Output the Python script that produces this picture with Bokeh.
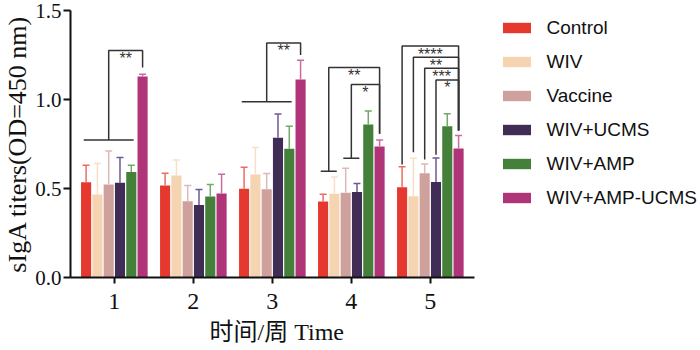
import numpy as np
from bokeh.plotting import figure
from bokeh.models import ColumnDataSource, Legend, LegendItem, FixedTicker, Title
from bokeh.core.properties import value
from bokeh.embed import file_html
from bokeh.resources import INLINE

weeks = [1, 2, 3, 4, 5]
week_labels = ["1", "2", "3", "4", "5"]
groups = ["Control", "WIV", "Vaccine", "WIV+UCMS", "WIV+AMP", "WIV+AMP-UCMS"]

control = [0.535, 0.517, 0.498, 0.427, 0.507]
control_err = [0.095, 0.069, 0.122, 0.041, 0.115]
wiv = [0.466, 0.573, 0.578, 0.470, 0.457]
wiv_err = [0.174, 0.087, 0.152, 0.094, 0.213]
vaccine = [0.522, 0.429, 0.496, 0.476, 0.586]
vaccine_err = [0.188, 0.088, 0.088, 0.138, 0.051]
wiv_ucms = [0.532, 0.408, 0.785, 0.480, 0.536]
wiv_ucms_err = [0.142, 0.086, 0.133, 0.048, 0.136]
wiv_amp = [0.592, 0.455, 0.723, 0.860, 0.850]
wiv_amp_err = [0.038, 0.067, 0.127, 0.076, 0.070]
wiv_amp_ucms = [1.129, 0.472, 1.112, 0.736, 0.725]
wiv_amp_ucms_err = [0.013, 0.108, 0.108, 0.037, 0.073]

means = [control, wiv, vaccine, wiv_ucms, wiv_amp, wiv_amp_ucms]
errs = [control_err, wiv_err, vaccine_err, wiv_ucms_err, wiv_amp_err, wiv_amp_ucms_err]

colors = ["#E5392F", "#F5D4B2", "#CFA19D", "#402D55", "#44803A", "#B03478"]
err_colors = ["#EE6B63", "#F8E0C8", "#DDB9B5", "#6E5A92", "#72A868", "#CA6AA2"]

# significance brackets: week, left bars (first..last), right bar, base y, top y, right end y, label
br_week = [1, 3, 4, 4, 5, 5, 5, 5]
br_first = [0, 0, 0, 2, 0, 1, 2, 3]
br_last = [4, 4, 1, 3, 0, 1, 2, 3]
br_right = [5, 5, 5, 5, 5, 5, 5, 5]
br_base = [0.773, 0.987, 0.597, 0.670, 0.635, 0.704, 0.663, 0.690]
br_top = [1.275, 1.318, 1.180, 1.084, 1.300, 1.238, 1.176, 1.110]
br_end = [1.180, 1.250, 0.807, 0.807, 0.826, 0.826, 0.826, 0.826]
br_label = ["**", "**", "**", "*", "****", "**", "***", "*"]

n = len(groups)
pitch = 0.143
bar_w = 0.128

x_start, x_axis_end = 0.445, 5.555
px_per_unit = 79.25
frame_left = 68
frame_w = 700 - frame_left
x_end = x_start + frame_w / px_per_unit


def bar_x(week, i):
    return week + (i - (n - 1) / 2) * pitch


p = figure(width=700, height=350, x_range=(x_start, x_end), y_range=(0, 1.5),
           output_backend="svg", toolbar_location=None,
           min_border_left=frame_left, min_border_right=0, min_border_top=10, min_border_bottom=73)
p.outline_line_color = None
p.xgrid.visible = False
p.ygrid.visible = False

renderers = []
for i, g in enumerate(groups):
    xs = [bar_x(w, i) for w in weeks]
    tops = np.array(means[i])
    up = tops + np.array(errs[i])
    src = ColumnDataSource(dict(x=xs, top=tops, up=up))
    r = p.vbar(x="x", top="top", width=bar_w, bottom=0, source=src,
               fill_color=colors[i], line_color=None)
    p.segment(x0="x", y0="top", x1="x", y1="up", source=src,
              line_color=err_colors[i], line_width=1.5)
    p.scatter(x="x", y="up", source=src, marker="dash", size=7,
              line_color=err_colors[i], line_width=1.5)
    renderers.append(r)

# brackets
bx, by = [], []
lx, ly, lt = [], [], []
for wk, a, b, rt, base, top, end, lab in zip(br_week, br_first, br_last, br_right,
                                              br_base, br_top, br_end, br_label):
    xl, xr = bar_x(wk, a), bar_x(wk, b)
    xm = (xl + xr) / 2
    xt = bar_x(wk, rt)
    if a != b:
        bx.append([xl - 0.03, xr + 0.03])
        by.append([base, base])
    bx.append([xm, xm, xt, xt])
    by.append([base, top, top, end])
    lx.append((xm + xt) / 2)
    ly.append(top)
    lt.append(lab)

p.multi_line(xs=bx, ys=by, line_color="#333333", line_width=1.5)
p.text(x=lx, y=ly, text=lt, text_align="center", text_baseline="alphabetic",
       y_offset=8, text_font=value("Liberation Sans"), text_font_size="16px",
       text_color="#333333")

# axes
serif = "'Liberation Serif', 'Noto Sans CJK SC'"
p.xaxis.ticker = FixedTicker(ticks=weeks)
p.xaxis.major_label_overrides = {w: l for w, l in zip(weeks, week_labels)}
p.xaxis.bounds = (x_start, x_axis_end)
p.yaxis.ticker = FixedTicker(ticks=[0.0, 0.5, 1.0, 1.5])
p.yaxis.major_label_overrides = {0.0: "0.0", 0.5: "0.5", 1.0: "1.0", 1.5: "1.5"}
p.yaxis.axis_label = "sIgA titers(OD=450 nm)"
for ax in (p.xaxis[0], p.yaxis[0]):
    ax.axis_line_width = 2
    ax.axis_line_color = "#111111"
    ax.major_tick_line_width = 2
    ax.major_tick_line_color = "#111111"
    ax.minor_tick_line_color = None
    ax.major_tick_in = 0
    ax.major_label_text_font = serif
    ax.axis_label_text_font = serif
    ax.axis_label_text_font_style = "normal"
    ax.major_label_text_color = "#111111"
    ax.axis_label_text_color = "#111111"
p.xaxis.major_tick_out = 6
p.xaxis.major_label_text_font_size = "24px"
p.xaxis.major_label_standoff = 10
p.yaxis.major_tick_out = 7
p.yaxis.major_label_text_font_size = "21px"
p.yaxis.major_label_standoff = 2
p.yaxis.axis_label_text_font_size = "26px"
p.yaxis.axis_label_standoff = 0

xtitle = Title(text="时间/周 Time", align="left", offset=139, standoff=10,
               text_font=serif, text_font_size="24px", text_font_style="normal",
               text_color="#111111")
p.add_layout(xtitle, "below")

legend = Legend(items=[LegendItem(label=g, renderers=[r]) for g, r in zip(groups, renderers)],
                location=(428.5, 68.3), orientation="vertical",
                glyph_width=35, glyph_height=13, label_standoff=13,
                label_text_font="Liberation Sans", label_text_font_size="19px",
                label_text_color="#111111", spacing=12, padding=0, margin=0,
                border_line_color=None, background_fill_alpha=0)
p.add_layout(legend, "center")

open("out.html", "w").write(file_html(p, INLINE))
